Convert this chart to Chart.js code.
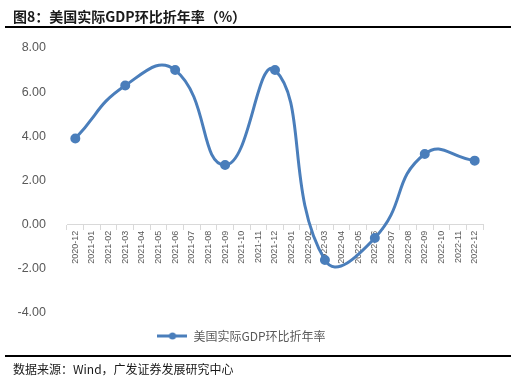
<!DOCTYPE html>
<html>
<head>
<meta charset="utf-8">
<script src="https://cdn.jsdelivr.net/npm/chart.js@4.4.1/dist/chart.umd.min.js"></script>
<style>
  body { margin: 0; background: #fff; }
  #wrap { position: relative; width: 515px; height: 378px; overflow: hidden; }
  #chart { position: absolute; left: 0; top: 0; }
  .title {
    position: absolute; left: 13px; top: 6px;
    font: bold 14px "Noto Sans CJK SC", sans-serif; color: #1a1a1a; line-height: 20px;
  }
  .rule { position: absolute; left: 5px; width: 506px; height: 2px; background: #000; }
  .source {
    position: absolute; left: 13px; top: 360px;
    font: 12px "Noto Sans CJK SC", sans-serif; color: #1a1a1a; line-height: 18px;
  }
</style>
</head>
<body>
<div id="wrap">
  <canvas id="chart" width="515" height="378"></canvas>
  <div class="title">图8：美国实际GDP环比折年率（%）</div>
  <div class="rule" style="top:26px"></div>
  <div class="rule" style="top:355px"></div>
  <div class="source">数据来源：Wind，广发证券发展研究中心</div>
</div>
<script>
// ===== Data =====
const months = [
    '2020-12', '2021-01', '2021-02', '2021-03', '2021-04', '2021-05', '2021-06',
    '2021-07', '2021-08', '2021-09', '2021-10', '2021-11', '2021-12',
    '2022-01', '2022-02', '2022-03', '2022-04', '2022-05', '2022-06',
    '2022-07', '2022-08', '2022-09', '2022-10', '2022-11', '2022-12'
];
// quarterly readings, other months empty
const gdpRate = [
    3.9, null, null, 6.3, null, null, 7.0,
    null, null, 2.7, null, null, 7.0,
    null, null, -1.6, null, null, -0.6,
    null, null, 3.2, null, null, 2.9
];
const seriesName = '美国实际GDP环比折年率';
const yTicks = { min: -4, max: 8, step: 2 };

const blue = '#4a7ebb';

// ===== Legend marker (line with dot) =====
const marker = document.createElement('canvas');
marker.width = 30; marker.height = 8;
const mctx = marker.getContext('2d');
mctx.strokeStyle = blue; mctx.lineWidth = 3;
mctx.beginPath(); mctx.moveTo(0, 4); mctx.lineTo(30, 4); mctx.stroke();
mctx.fillStyle = blue;
mctx.beginPath(); mctx.arc(15, 4, 3.5, 0, Math.PI * 2); mctx.fill();

// ===== Chart =====
new Chart(document.getElementById('chart'), {
    type: 'line',
    data: {
        labels: months,
        datasets: [{
            label: seriesName,
            data: gdpRate,
            borderColor: blue,
            backgroundColor: blue,
            borderWidth: 3,
            pointRadius: 3.5,
            pointHoverRadius: 3.5,
            tension: 0.5,
            spanGaps: true
        }]
    },
    options: {
        responsive: false,
        animation: false,
        layout: { padding: { top: 48, right: 32, bottom: 26, left: 0 } },
        plugins: {
            tooltip: { enabled: false },
            legend: {
                position: 'bottom',
                labels: {
                    usePointStyle: true,
                    pointStyle: marker,
                    pointStyleWidth: 30,
                    padding: 17,
                    color: '#595959',
                    font: { family: '"Noto Sans CJK SC", sans-serif', size: 12 }
                }
            }
        },
        scales: {
            x: {
                position: { y: 0 },
                offset: true,
                grid: {
                    offset: true,
                    drawOnChartArea: false,
                    tickLength: 5,
                    color: '#d9d9d9'
                },
                border: { color: '#d9d9d9' },
                ticks: {
                    autoSkip: false,
                    maxRotation: 90,
                    minRotation: 90,
                    padding: 1,
                    color: '#595959',
                    font: { family: '"Liberation Sans", Arial, sans-serif', size: 9 }
                }
            },
            y: {
                min: yTicks.min,
                max: yTicks.max,
                grid: { display: false },
                border: { display: false },
                afterFit: s => { s.width = 67; },
                ticks: {
                    stepSize: yTicks.step,
                    padding: 13,
                    color: '#595959',
                    font: { family: '"Liberation Sans", Arial, sans-serif', size: 12.5 },
                    callback: v => v.toFixed(2)
                }
            }
        }
    }
});
</script>
</body>
</html>
